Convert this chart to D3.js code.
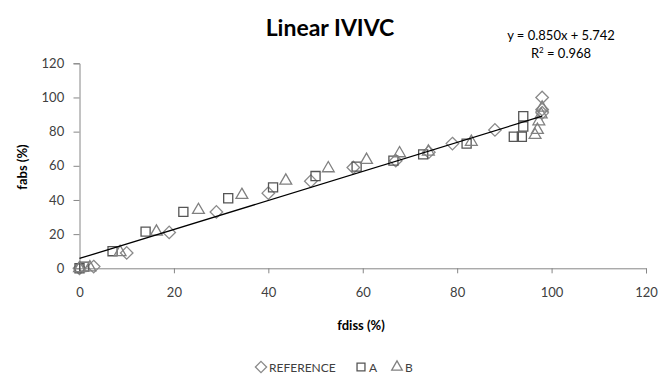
<!DOCTYPE html>
<html><head><meta charset="utf-8">
<script src="https://cdn.jsdelivr.net/npm/d3@7"></script>
<style>body{margin:0;background:#fff;}svg{display:block;font-family:Lato,"Liberation Sans",sans-serif;}</style>
</head><body><svg id="c" width="660" height="376"></svg>
<script>
const xTicks = [0,20,40,60,80,100,120];
const yTicks = [0,20,40,60,80,100,120];
const seriesNames = ["REFERENCE","A","B"];
const refX = [0,3,10,19,29,40,49,58,67,74,79,88,98,98,98];
const refY = [0,1,9,21,33,44,51,59,63,68,73,81,91,93,100];
const aX = [0,1,7,14,22,31.5,41,50,58.7,66.5,72.8,82,92,93.7,94,94];
const aY = [0,1,10,21.5,33,41,47.4,54,59.5,63,66.7,73,77,77,83,89];
const bX = [0,2.2,8.6,16.3,25.2,34.4,43.7,52.7,60.8,67.8,73.9,83,96.5,97,97.3,97.8,98];
const bY = [0,0.5,9.4,21.4,34.1,42.9,51.3,58.5,63.4,67.3,68.3,74,78,81,86,90,94];
const slope = 0.850, intercept = 5.742;
const eqText = "y = 0.850x + 5.742";
const r2Text = "0.968";

const svg = d3.select("#c");
const x = d3.scaleLinear().domain([0,120]).range([79.5,646]);
const y = d3.scaleLinear().domain([0,120]).range([268.3,63.3]);
const axisColor = "#868686", textColor = "#404040";

// title
svg.append("text").attr("x",330).attr("y",36).attr("text-anchor","middle")
  .attr("font-size",23).attr("font-weight","bold").attr("fill","#000").text("Linear IVIVC");

// axes
const gx = svg.append("g").attr("transform",`translate(0,${y(0)})`)
  .call(d3.axisBottom(x).tickValues(xTicks).tickSize(5).tickPadding(14));
const gy = svg.append("g").attr("transform",`translate(${x(0)},0)`)
  .call(d3.axisLeft(y).tickValues(yTicks).tickSize(6).tickPadding(8));
[gx,gy].forEach(g=>{
  g.select(".domain").attr("stroke",axisColor).attr("stroke-width",1);
  g.selectAll(".tick line").attr("stroke",axisColor);
  g.selectAll(".tick text").attr("fill",textColor).attr("font-size",13)
    .attr("font-family","Lato,'Liberation Sans',sans-serif");
});
gy.selectAll(".tick text").attr("dx","-0.1em");

// axis titles
svg.append("text").attr("x",361).attr("y",330).attr("text-anchor","middle")
  .attr("font-size",13).attr("font-weight","bold").attr("fill","#000").text("fdiss (%)");
svg.append("text").attr("transform","translate(27,167) rotate(-90)").attr("text-anchor","middle")
  .attr("font-size",13).attr("font-weight","bold").attr("fill","#000").text("fabs (%)");

// markers
const sym = {
  "REFERENCE": {type:d3.symbolDiamond2, size:100, color:"#8a8a8a"},
  "A": {type:d3.symbolSquare2, size:105, color:"#555555"},
  "B": {type:d3.symbolTriangle2, size:100, color:"#808080"}
};
const data = {
  "REFERENCE": refX.map((v,i)=>[v,refY[i]]),
  "A": aX.map((v,i)=>[v,aY[i]]),
  "B": bX.map((v,i)=>[v,bY[i]])
};
seriesNames.forEach(n=>{
  const s = sym[n];
  const p = d3.symbol().type(s.type).size(s.size);
  svg.append("g").selectAll("path").data(data[n]).join("path")
    .attr("d",p).attr("transform",d=>`translate(${x(d[0])},${y(d[1])})`)
    .attr("fill","none").attr("stroke",s.color).attr("stroke-width",1.3);
});

// trendline
const allX = refX.concat(aX,bX);
const xMax = d3.max(allX);
svg.append("line").attr("x1",x(0)).attr("y1",y(intercept))
  .attr("x2",x(xMax)).attr("y2",y(slope*xMax+intercept))
  .attr("stroke","#000").attr("stroke-width",1.3);

// equation
svg.append("text").attr("x",561).attr("y",40).attr("text-anchor","middle")
  .attr("font-size",13).attr("fill","#000").text(eqText);
const r2 = svg.append("text").attr("x",561).attr("y",58).attr("text-anchor","middle")
  .attr("font-size",13).attr("fill","#000");
r2.append("tspan").text("R");
r2.append("tspan").attr("font-size",8).attr("dy",-5).text("2");
r2.append("tspan").attr("dy",5).text(" = " + r2Text);

// legend
const legX = [261,361,397];
seriesNames.forEach((n,i)=>{
  const s = sym[n];
  svg.append("path").attr("d",d3.symbol().type(s.type).size(80)())
    .attr("transform",`translate(${legX[i]},367)`)
    .attr("fill","none").attr("stroke",s.color).attr("stroke-width",1.3);
  svg.append("text").attr("x",legX[i]+8).attr("y",372).attr("font-size",12)
    .attr("fill",textColor).text(n);
});
</script></body></html>
